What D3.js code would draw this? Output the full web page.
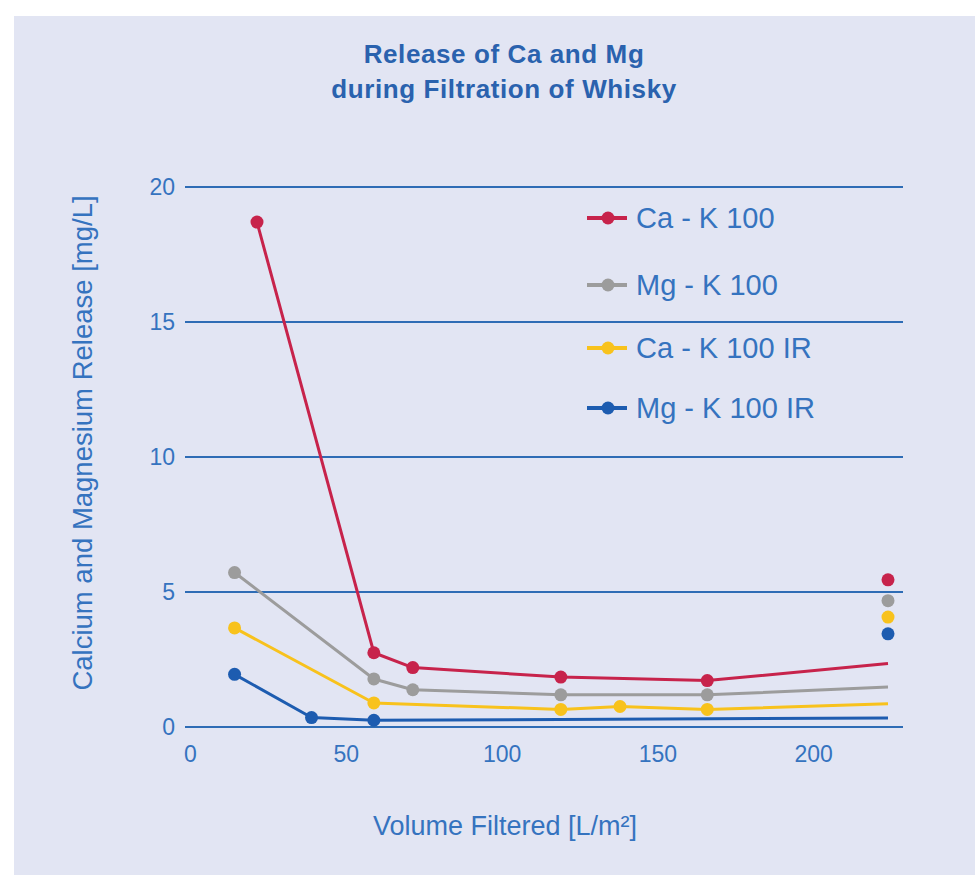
<!DOCTYPE html>
<html>
<head>
<meta charset="utf-8">
<script src="https://cdn.jsdelivr.net/npm/d3@7"></script>
<style>
  html, body { margin: 0; padding: 0; background: #ffffff; }
  svg { display: block; }
  text { font-family: "Liberation Sans", Arial, Helvetica, sans-serif; }
</style>
</head>
<body>
<svg id="chart" width="975" height="875"></svg>
<script>
// ---- data ----
const titleLines = ["Release of Ca and Mg", "during Filtration of Whisky"];
const xTicks = [0, 50, 100, 150, 200];
const yTicks = [0, 5, 10, 15, 20];
const seriesNames = ["Ca - K 100", "Mg - K 100", "Ca - K 100 IR", "Mg - K 100 IR"];
const seriesColors = ["#c7234b", "#9c9c9c", "#f8c21c", "#1d5cb0"];

const xCaK100 = [21.5, 59, 71.5, 119, 166, 224];
const yCaK100 = [18.7, 2.75, 2.2, 1.85, 1.72, 2.35];
const xMgK100 = [14.3, 59, 71.5, 119, 166, 224];
const yMgK100 = [5.72, 1.78, 1.38, 1.19, 1.19, 1.48];
const xCaK100IR = [14.3, 59, 119, 138, 166, 224];
const yCaK100IR = [3.67, 0.89, 0.65, 0.76, 0.65, 0.86];
const xMgK100IR = [14.3, 39, 59, 224];
const yMgK100IR = [1.95, 0.35, 0.25, 0.33];

// isolated end dots at right edge
const xEndDots = 224;
const yEndDots = [5.45, 4.68, 4.07, 3.45];

// ---- build ----
const seriesX = [xCaK100, xMgK100, xCaK100IR, xMgK100IR];
const seriesY = [yCaK100, yMgK100, yCaK100IR, yMgK100IR];
const series = seriesNames.map((name, i) => ({
  name, color: seriesColors[i],
  points: seriesX[i].map((x, j) => ({ x, y: seriesY[i][j] }))
}));

const svg = d3.select("#chart");
const blue = "#2e6cb5";
const textBlue = "#3573bf";

svg.append("rect").attr("x", 14).attr("y", 16).attr("width", 975 - 14).attr("height", 875 - 16)
  .attr("fill", "#e2e5f3");

const x = d3.scaleLinear().domain([0, 224]).range([190, 888]);
const y = d3.scaleLinear().domain([0, 20]).range([727, 187]);
const gridX0 = 185, gridX1 = 903;

// title
svg.append("g").selectAll("text").data(titleLines).join("text")
  .attr("x", 504).attr("y", (d, i) => 63 + i * 35)
  .attr("text-anchor", "middle")
  .attr("font-size", 26).attr("font-weight", "bold")
  .attr("letter-spacing", 0.6)
  .attr("fill", "#2a62ae")
  .text(d => d);

// y grid + labels
const yAxis = d3.axisLeft(y).tickValues(yTicks).tickSize(0).tickPadding(0);
const gy = svg.append("g").attr("transform", `translate(${gridX0 - 10},0)`).call(yAxis);
gy.select(".domain").remove();
gy.selectAll("text").attr("font-size", 23).attr("fill", textBlue)
  .attr("font-family", "'Liberation Sans', Arial, sans-serif");

svg.append("g").selectAll("line").data(yTicks).join("line")
  .attr("x1", gridX0).attr("x2", gridX1)
  .attr("y1", d => y(d)).attr("y2", d => y(d))
  .attr("stroke", blue).attr("stroke-width", 2);

// x labels
const xAxis = d3.axisBottom(x).tickValues(xTicks).tickSize(0).tickPadding(0);
const gx = svg.append("g").attr("transform", `translate(0,746)`).call(xAxis);
gx.select(".domain").remove();
gx.selectAll("text").attr("font-size", 23).attr("fill", textBlue)
  .attr("font-family", "'Liberation Sans', Arial, sans-serif");

// axis titles
svg.append("text").attr("x", 505).attr("y", 835)
  .attr("text-anchor", "middle").attr("font-size", 27).attr("fill", textBlue)
  .text("Volume Filtered [L/m²]");
svg.append("text")
  .attr("transform", `translate(92,443) rotate(-90)`)
  .attr("text-anchor", "middle").attr("font-size", 27.5).attr("fill", textBlue)
  .text("Calcium and Magnesium Release [mg/L]");

// lines
const line = d3.line().x(d => x(d.x)).y(d => y(d.y));
const gs = svg.append("g");
gs.selectAll("path").data(series).join("path")
  .attr("d", d => line(d.points))
  .attr("fill", "none").attr("stroke", d => d.color)
  .attr("stroke-width", 3).attr("stroke-linejoin", "round");

// markers (all points except the open line end)
series.forEach(s => {
  gs.append("g").selectAll("circle").data(s.points.slice(0, -1)).join("circle")
    .attr("cx", d => x(d.x)).attr("cy", d => y(d.y)).attr("r", 6.5)
    .attr("fill", s.color);
});

// end dots
svg.append("g").selectAll("circle").data(yEndDots).join("circle")
  .attr("cx", x(xEndDots)).attr("cy", d => y(d)).attr("r", 6.5)
  .attr("fill", (d, i) => seriesColors[i]);

// legend
const legendY = [218, 285, 348, 408];
const lg = svg.append("g").selectAll("g").data(series).join("g")
  .attr("transform", (d, i) => `translate(0,${legendY[i]})`);
lg.append("line").attr("x1", 587).attr("x2", 627).attr("y1", 0).attr("y2", 0)
  .attr("stroke", d => d.color).attr("stroke-width", 4);
lg.append("circle").attr("cx", 608).attr("cy", 0).attr("r", 6.5).attr("fill", d => d.color);
lg.append("text").attr("x", 636).attr("y", 0).attr("dy", "0.36em")
  .attr("font-size", 29).attr("fill", textBlue)
  .text(d => d.name);
</script>
</body>
</html>
